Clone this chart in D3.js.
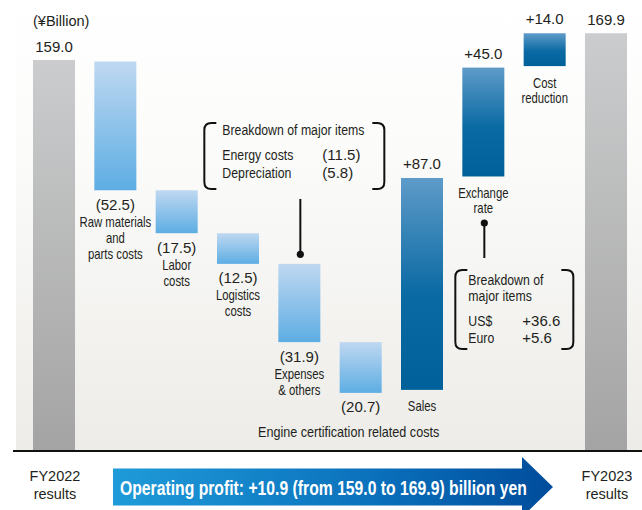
<!DOCTYPE html>
<html><head><meta charset="utf-8">
<script src="https://cdn.jsdelivr.net/npm/d3@7"></script>
<style>
html,body{margin:0;padding:0;background:#fff;}
svg{display:block;}
.num{font-family:"Liberation Sans",Arial,sans-serif;font-size:15px;fill:#231f20;}
.lab{font-family:"Liberation Sans",Arial,sans-serif;font-size:14px;fill:#231f20;}
.box{font-family:"Liberation Sans",Arial,sans-serif;font-size:15px;fill:#231f20;}
</style>
</head><body>
<svg id="c" width="642" height="510"></svg>
<script>
// ---- data ----
const categories = ["FY2022 results","Raw materials and parts costs","Labor costs","Logistics costs","Expenses & others","Engine certification related costs","Sales","Exchange rate","Cost reduction","FY2023 results"];
const values = [159.0,-52.5,-17.5,-12.5,-31.9,-20.7,87.0,45.0,14.0,169.9];
const kinds = ["total","neg","neg","neg","neg","neg","pos","pos","pos","total"];
const labelLines = [["FY2022","results"],["Raw materials","and","parts costs"],["Labor","costs"],["Logistics","costs"],["Expenses","& others"],["Engine certification related costs"],["Sales"],["Exchange","rate"],["Cost","reduction"],["FY2023","results"]];
const unitLabel = "(¥Billion)";
const costBreakdownTitle = ["Breakdown of major items"];
const costBreakdownItems = ["Energy costs","Depreciation"];
const costBreakdownValues = [-11.5,-5.8];
const fxBreakdownTitle = ["Breakdown of","major items"];
const fxBreakdownItems = ["US$","Euro"];
const fxBreakdownValues = [36.6,5.6];
const summaryText = "Operating profit: +10.9 (from 159.0 to 169.9) billion yen";

// ---- build waterfall ----
let run = 0;
const bars = categories.map((c,i)=>{
  let start,end;
  if(kinds[i]==="total"){start=0;end=values[i];}
  else {start=run;end=run+values[i];}
  run=end;
  return {cat:c,value:values[i],kind:kinds[i],start,end,lines:labelLines[i]};
});

const svg = d3.select("#c");
const W=642,H=510;
const x = d3.scaleBand().domain(categories).range([33,627]).paddingInner(0.315).paddingOuter(0);
const y = d3.scaleLinear().domain([0,159]).range([450,60]);
const bw = x.bandwidth();

const defs = svg.append("defs");
function grad(id,stops,horiz){
  const g=defs.append("linearGradient").attr("id",id).attr("x1",0).attr("y1",0)
    .attr("x2",horiz?1:0).attr("y2",horiz?0:1);
  stops.forEach(s=>g.append("stop").attr("offset",s[0]).attr("stop-color",s[1]));
}
grad("bg",[[0,"#ffffff"],[0.35,"#fbfbfa"],[1,"#edece8"]]);
grad("gTotal",[[0,"#cbcccd"],[1,"#a4a4a4"]]);
grad("gNeg",[[0,"#bfd8f1"],[1,"#5dade3"]]);
grad("gPos",[[0,"#5e9bc9"],[0.55,"#0a6aa3"],[1,"#006099"]]);
grad("gArrow",[[0,"#1f9bd9"],[0.6,"#0a70bb"],[1,"#004c9b"]],true);

// background
svg.append("rect").attr("x",16).attr("y",0).attr("width",W-16).attr("height",y(0)).attr("fill","url(#bg)");

// bars
const fills={total:"url(#gTotal)",neg:"url(#gNeg)",pos:"url(#gPos)"};
svg.append("g").selectAll("rect").data(bars).join("rect")
  .attr("x",d=>x(d.cat))
  .attr("width",bw)
  .attr("y",d=>{const t=y(Math.max(d.start,d.end)); return d.kind==="neg"? t+1.5 : t;})
  .attr("height",d=>{const t=y(Math.max(d.start,d.end)),b=y(Math.min(d.start,d.end));
     if(d.kind==="neg") return b-t; if(d.kind==="pos") return b-t-1.5; return b-t;})
  .attr("fill",d=>fills[d.kind]);

// baseline
svg.append("line").attr("x1",13).attr("x2",W).attr("y1",y(0)+1).attr("y2",y(0)+1)
  .attr("stroke","#111").attr("stroke-width",2);

const fmtAbs=d3.format(".1f");
function valText(d){
  if(d.kind==="total") return fmtAbs(d.value);
  if(d.kind==="neg") return "("+fmtAbs(-d.value)+")";
  return "+"+fmtAbs(d.value);
}

// unit label
svg.append("text").attr("class","num").attr("x",x(categories[0])).attr("y",26).style("font-size","14.5px").text(unitLabel);

const lg = svg.append("g");
bars.forEach(d=>{
  const cx = x(d.cat)+bw/2;
  const top = y(Math.max(d.start,d.end)), bot = y(Math.min(d.start,d.end));
  if(d.kind==="total"){
    lg.append("text").attr("class","num").attr("x",cx).attr("y",top-8).attr("text-anchor","middle").text(valText(d));
    d.lines.forEach((l,i)=>lg.append("text").attr("class","num").style("font-size","14.5px").attr("x",cx+1).attr("y",480.5+i*18).attr("text-anchor","middle").text(l));
  } else if(d.kind==="neg"){
    lg.append("text").attr("class","num").attr("x",cx).attr("y",bot+21).attr("text-anchor","middle").text(valText(d));
    if(d.lines.length===1 && d.lines[0].length>20){
      lg.append("text").attr("class","lab wide").attr("x",cx-12).attr("y",bot+46).attr("text-anchor","middle").text(d.lines[0]);
    } else {
      d.lines.forEach((l,i)=>lg.append("text").attr("class","lab").attr("x",cx).attr("y",bot+38+i*16).attr("text-anchor","middle").text(l));
    }
  } else {
    lg.append("text").attr("class","num").attr("x",cx).attr("y",top-9).attr("text-anchor","middle").text(valText(d));
    d.lines.forEach((l,i)=>lg.append("text").attr("class","lab").attr("x",cx).attr("y",bot+20+i*15.5).attr("text-anchor","middle").text(l));
  }
});

// bracket box
function bracketBox(x0,y0,x1,y1){
  const r=7,s=5;
  const p=d3.path();
  p.moveTo(x0+r+s,y0);p.lineTo(x0+r,y0);p.quadraticCurveTo(x0,y0,x0,y0+r);
  p.lineTo(x0,y1-r);p.quadraticCurveTo(x0,y1,x0+r,y1);p.lineTo(x0+r+s,y1);
  p.moveTo(x1-r-s,y0);p.lineTo(x1-r,y0);p.quadraticCurveTo(x1,y0,x1,y0+r);
  p.lineTo(x1,y1-r);p.quadraticCurveTo(x1,y1,x1-r,y1);p.lineTo(x1-r-s,y1);
  svg.append("path").attr("d",p.toString()).attr("fill","none").attr("stroke","#111").attr("stroke-width",2);
}
const fmtSigned=v=> v<0? "("+fmtAbs(-v)+")" : "+"+fmtAbs(v);

// cost breakdown (Expenses & others)
{
  const b=bars[4]; const cx=x(b.cat)+bw/2; const top=y(b.start);
  const dotY=top-8;
  svg.append("line").attr("x1",cx+1).attr("x2",cx+1).attr("y1",199).attr("y2",dotY).attr("stroke","#111").attr("stroke-width",2);
  svg.append("circle").attr("cx",cx+1).attr("cy",dotY).attr("r",3.6).attr("fill","#111");
  const bx0=cx-95,bx1=cx+85;
  bracketBox(bx0,123,bx1,189);
  costBreakdownTitle.forEach((t,i)=>svg.append("text").attr("class","box").attr("x",bx0+18).attr("y",135+i*15).text(t));
  costBreakdownItems.forEach((t,i)=>{
    svg.append("text").attr("class","box").attr("x",bx0+18).attr("y",160+i*18).text(t);
    svg.append("text").attr("class","num").attr("x",bx0+118).attr("y",160+i*18).text(fmtSigned(costBreakdownValues[i]));
  });
}
// fx breakdown (Exchange rate)
{
  const b=bars[7]; const cx=x(b.cat)+bw/2; const bot=y(b.start);
  const dotY=bot+45;
  svg.append("line").attr("x1",cx+1).attr("x2",cx+1).attr("y1",dotY).attr("y2",258).attr("stroke","#111").attr("stroke-width",2);
  svg.append("circle").attr("cx",cx+1).attr("cy",dotY).attr("r",3.6).attr("fill","#111");
  const bx0=cx-28,bx1=cx+90;
  bracketBox(bx0,270,bx1,349);
  fxBreakdownTitle.forEach((t,i)=>svg.append("text").attr("class","box").attr("x",bx0+13).attr("y",284.5+i*16).text(t));
  fxBreakdownItems.forEach((t,i)=>{
    svg.append("text").attr("class","box").attr("x",bx0+13).attr("y",326+i*17).text(t);
    svg.append("text").attr("class","num").attr("x",bx0+67).attr("y",326+i*17).text(fmtSigned(fxBreakdownValues[i]));
  });
}

// condense text horizontally (Helvetica Condensed look) via transform so bbox stays true
function condense(node,f){
  const s=d3.select(node);
  const tx=+s.attr("x"), ty=+s.attr("y");
  s.attr("x",0).attr("y",0).attr("transform",`translate(${tx},${ty}) scale(${f},1)`);
}
svg.selectAll("text.lab, text.box").each(function(){
  const sel=d3.select(this);
  const f = sel.classed("wide") ? 0.9 : sel.classed("box") ? 0.82 : 0.81;
  condense(this,f);
});

// summary arrow
{
  const ax0=113, ax1=522, tip=553, cy=487, bh=18.5, hh=30;
  const p=d3.path();
  p.moveTo(ax0,cy-bh);p.lineTo(ax1,cy-bh);p.lineTo(ax1,cy-hh);p.lineTo(tip,cy);
  p.lineTo(ax1,cy+hh);p.lineTo(ax1,cy+bh);p.lineTo(ax0,cy+bh);p.closePath();
  svg.append("path").attr("d",p.toString()).attr("fill","url(#gArrow)");
  const t=svg.append("text").attr("x",120).attr("y",495)
    .style("font-family",'"Liberation Sans",Arial,sans-serif')
    .style("font-weight","bold").style("font-size","20px").style("fill","#fff")
    .text(summaryText);
  const w=t.node().getComputedTextLength();
  condense(t.node(),407/w);
}
</script>
</body></html>
